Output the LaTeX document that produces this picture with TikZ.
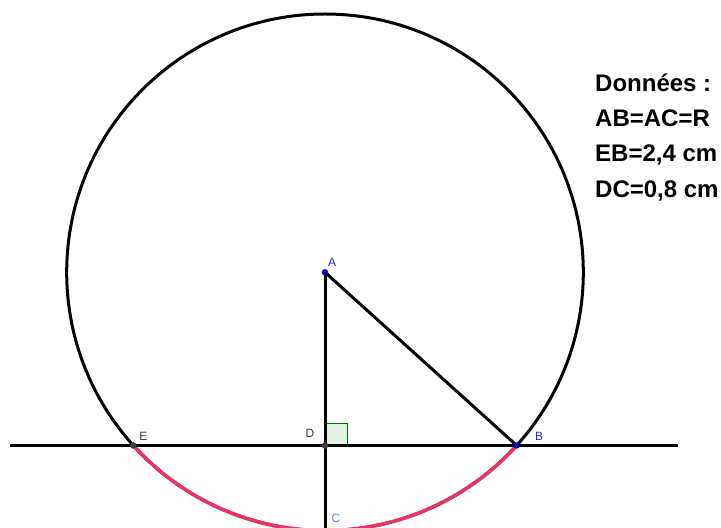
\documentclass[tikz,border=0pt]{standalone}
\usepackage{fontspec}
\setmainfont{Liberation Sans}
\usetikzlibrary{calc}
\definecolor{arcred}{RGB}{232,52,98}
\definecolor{ptblue}{RGB}{0,0,200}
\definecolor{lblblue}{RGB}{40,40,200}
\definecolor{lblc}{RGB}{120,120,240}
\definecolor{ptgray}{RGB}{60,60,60}
\definecolor{sqgreen}{RGB}{0,110,0}
\definecolor{sqfill}{RGB}{225,240,225}
\tikzset{
  geoline/.style={line width=3pt, black},
  redarc/.style={line width=3.6pt, arcred},
  ptdot/.style={circle, inner sep=0pt, minimum size=6.5pt},
  lbl/.style={font=\fontsize{12}{12}\selectfont, inner sep=0pt},
  data/.style={font=\fontsize{24}{24}\selectfont\bfseries, anchor=base west, inner sep=0pt},
}
\begin{document}
\begin{tikzpicture}[x=1pt,y=1pt]
\useasboundingbox (0,0) rectangle (721,528);
\coordinate (A) at (325,255.7);
\coordinate (B) at ($(A)+(-42.1:258.3pt)$);
\coordinate (E) at ($(A)+(222.1:258.3pt)$);
\coordinate (D) at (325,82.5);
\coordinate (C) at ($(A)+(0,-258.3pt)$);
\coordinate (L1) at (10,82.5);
\coordinate (L2) at (678,82.5);
% right angle mark
\draw[sqgreen, fill=sqfill, line width=0.8pt] (D) rectangle ++(22,22);
% circle
\draw[geoline] (A) circle[radius=258.3pt];
% red arc
\draw[redarc] (E) arc[start angle=222.1, end angle=317.9, radius=258.3pt];
% lines
\draw[geoline] (L1) -- (L2);
\draw[geoline] (A) -- (C);
\draw[geoline] (A) -- (B);
% points
\node[ptdot, fill=ptblue] (pA) at (A) {};
\node[ptdot, fill=ptblue] (pB) at (B) {};
\node[ptdot, fill=ptgray] (pE) at (E) {};
\node[ptdot, fill=ptgray] (pD) at (D) {};
% labels
\node[lbl, text=lblblue] (tA) at (332,266) {A};
\node[lbl, text=lblblue] (tB) at (539,92) {B};
\node[lbl, text=ptgray] (tE) at (143.5,92) {E};
\node[lbl, text=ptgray] (tD) at (310,95) {D};
\node[lbl, text=lblc] (tC) at (336,9.5) {C};
% data
\node[data] (d1) at (595,436) {Données :};
\node[data] (d2) at (595,401) {AB=AC=R};
\node[data] (d3) at (595,366) {EB=2,4 cm};
\node[data] (d4) at (595,330.5) {DC=0,8 cm};
\end{tikzpicture}
\end{document}
